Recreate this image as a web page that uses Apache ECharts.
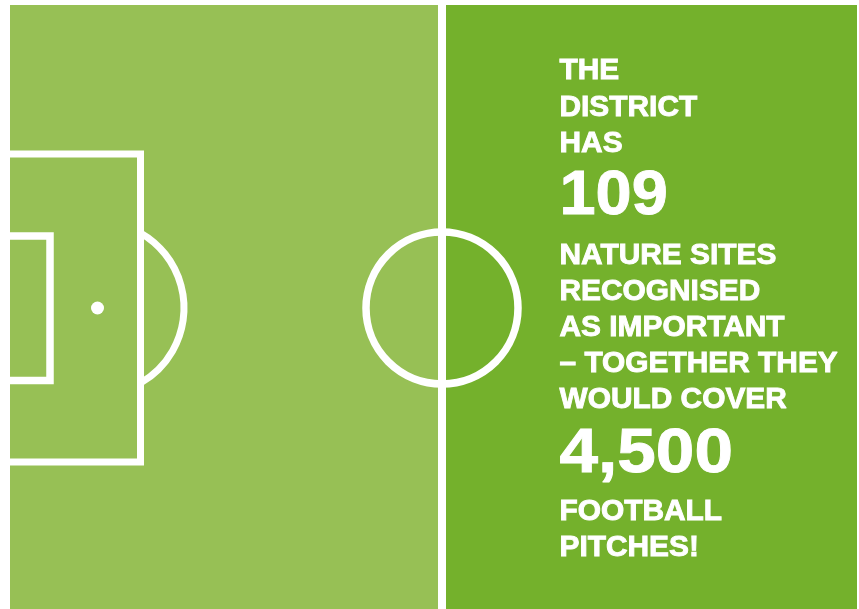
<!DOCTYPE html>
<html>
<head>
<meta charset="utf-8">
<script src="https://cdn.jsdelivr.net/npm/echarts@6/dist/echarts.min.js"></script>
<style>
  html, body { margin: 0; padding: 0; background: #ffffff; }
  #chart { width: 859px; height: 609px; }
</style>
</head>
<body>
<div id="chart"></div>
<script>
// ---- text content ----
var introLines = ['THE', 'DISTRICT', 'HAS'];
var sitesCount = '109';
var middleLines = ['NATURE SITES', 'RECOGNISED', 'AS IMPORTANT', '\u2013 TOGETHER THEY', 'WOULD COVER'];
var pitchCount = '4,500';
var outroLines = ['FOOTBALL', 'PITCHES!'];

// ---- style ----
var pitchLeftColor = '#97c055';
var pitchRightColor = '#74b12c';
var lineColor = '#ffffff';
var fontFamily = '"Liberation Sans", Arial, sans-serif';
var smallSize = 29;
var bigSize = 63;

var chart = echarts.init(document.getElementById('chart'), null, { renderer: 'canvas' });

var graphics = [];

// pitch halves
graphics.push({ type: 'rect', shape: { x: 10, y: 5, width: 428, height: 604 }, style: { fill: pitchLeftColor }, z: 1 });
graphics.push({ type: 'rect', shape: { x: 446, y: 5, width: 411, height: 604 }, style: { fill: pitchRightColor }, z: 1 });

// penalty box
graphics.push({ type: 'polyline', shape: { points: [[0, 154], [140.5, 154], [140.5, 462], [0, 462]] },
  style: { stroke: lineColor, lineWidth: 7, fill: null, lineJoin: 'miter' }, z: 2 });
// goal area
graphics.push({ type: 'polyline', shape: { points: [[0, 236], [50, 236], [50, 380.5], [0, 380.5]] },
  style: { stroke: lineColor, lineWidth: 7.5, fill: null, lineJoin: 'miter' }, z: 2 });
// penalty spot
graphics.push({ type: 'circle', shape: { cx: 97.5, cy: 308, r: 6.5 }, style: { fill: lineColor }, z: 2 });
// penalty arc
var arcR = 86.5;
var arcAng = Math.acos((140.5 - 97.5) / arcR);
graphics.push({ type: 'arc', shape: { cx: 97.5, cy: 308, r: arcR, startAngle: -arcAng, endAngle: arcAng, clockwise: true },
  style: { stroke: lineColor, lineWidth: 7, fill: null }, z: 2 });
// centre circle
graphics.push({ type: 'circle', shape: { cx: 442, cy: 308, r: 76 }, style: { stroke: lineColor, lineWidth: 7.5, fill: null }, z: 2 });
// halfway line (white gap)
graphics.push({ type: 'rect', shape: { x: 438, y: 0, width: 8, height: 609 }, style: { fill: lineColor }, z: 3 });

// text layout
var textX = 559.5;
function addLine(txt, baseline, size, sx) {
  graphics.push({
    type: 'text', x: textX, y: baseline - 0.3465 * size + 1.5, z: 5,
    scaleX: sx, scaleY: 1,
    style: {
      text: txt, fill: '#ffffff', font: 'bold ' + size + 'px ' + fontFamily,
      align: 'left', verticalAlign: 'middle',
      stroke: '#ffffff', lineWidth: 0.9
    }
  });
}
introLines.forEach(function (t, i) { addLine(t, 79.3 + i * 36.8, smallSize, 1.03); });
addLine(sitesCount, 216.7, bigSize, 1.03);
middleLines.forEach(function (t, i) { addLine(t, 265 + i * 35.8, smallSize, 1.03); });
addLine(pitchCount, 475, bigSize, 1.1);
outroLines.forEach(function (t, i) { addLine(t, 521 + i * 35.7, smallSize, 1.03); });

chart.setOption({
  backgroundColor: '#ffffff',
  animation: false,
  graphic: { elements: graphics }
});
</script>
</body>
</html>
